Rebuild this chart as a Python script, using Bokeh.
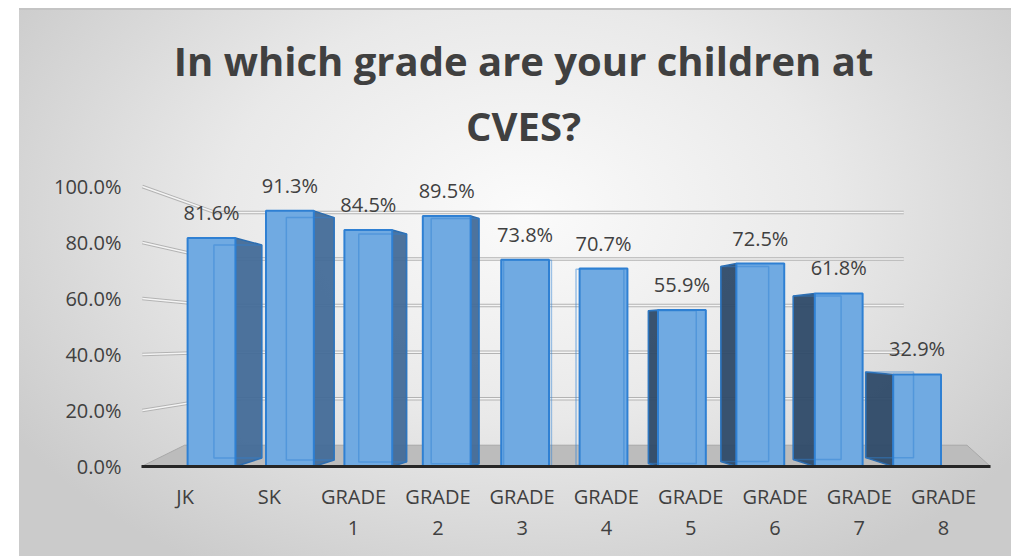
from bokeh.plotting import figure
from bokeh.models import ColumnDataSource, FixedTicker, Range1d, LabelSet, Label
from bokeh.embed import file_html
from bokeh.resources import INLINE
from bokeh.core.properties import value

# ---- data ----
title_lines = ["In which grade are your children at", "CVES?"]
categories = ["JK", "SK", "GRADE 1", "GRADE 2", "GRADE 3", "GRADE 4",
              "GRADE 5", "GRADE 6", "GRADE 7", "GRADE 8"]
tick_labels = ["JK", "SK", "GRADE\n1", "GRADE\n2", "GRADE\n3", "GRADE\n4",
               "GRADE\n5", "GRADE\n6", "GRADE\n7", "GRADE\n8"]
shares = [0.816, 0.913, 0.845, 0.895, 0.738, 0.707, 0.559, 0.725, 0.618, 0.329]
share_labels = ["81.6%", "91.3%", "84.5%", "89.5%", "73.8%", "70.7%",
                "55.9%", "72.5%", "61.8%", "32.9%"]
y_ticks = [0.0, 0.2, 0.4, 0.6, 0.8, 1.0]
y_tick_labels = ["0.0%", "20.0%", "40.0%", "60.0%", "80.0%", "100.0%"]

# ---- perspective styling (pseudo 3D) ----
FONT = "Open Sans"
TXT = "#404040"
W = 0.61          # front face width
VC = 4.4          # vanishing column
DEPTH = 0.0763    # side depth per column away from vanishing column
HOR = 0.45        # horizon level
SHRINK = 0.2
WALL = 0.169      # back wall shrink toward horizon
FRONT_SPREAD = 1.075

n = len(categories)
idx = list(range(n))
dxs = [DEPTH * (VC - i) for i in idx]

side_xs, side_ys, side_col = [], [], []
back_xs, back_ys = [], []
for i, v, dx in zip(idx, shares, dxs):
    a = SHRINK * abs(dx)
    top_b = v + a * (HOR - v)
    bot_b = a * HOR
    xl, xr = i - W / 2, i + W / 2
    back_xs.append([xl + dx, xl + dx, xr + dx, xr + dx])
    back_ys.append([bot_b, top_b, top_b, bot_b])
    if abs(dx) < 0.06:
        continue
    edge = xr if dx > 0 else xl
    side_xs.append([edge, edge, edge + dx, edge + dx])
    side_ys.append([0, v, top_b, bot_b])
    side_col.append("#436c98" if dx > 0 else "#2e4a68")

front_ticks = [round(4.5 + (i - 4.5) * FRONT_SPREAD, 3) for i in idx]

x0, x1 = -0.893, 9.936
wall_l, wall_r = 0.05, 8.83
grid_xs = [[x0 + 0.01, wall_l, wall_r] for t in y_ticks[1:]]
grid_ys = [[t, t + WALL * (HOR - t), t + WALL * (HOR - t)] for t in y_ticks[1:]]
floor_back = WALL * HOR
y_top = 1.6286   # frame reaches up into the title area

p = figure(width=1011, height=556, x_range=Range1d(x0, x1), y_range=Range1d(0, y_top),
           output_backend="svg", toolbar_location=None, title=None,
           min_border_left=141, min_border_right=21, min_border_top=10,
           min_border_bottom=90)
p.styles = {"background": (
    "linear-gradient(#ffffff,#ffffff) 0 0 / 100% 8px no-repeat, "
    "linear-gradient(#ffffff,#ffffff) 0 0 / 19px 100% no-repeat, "
    "linear-gradient(#c4c4c4,#c4c4c4) 0 8px / 100% 2px no-repeat, "
    "radial-gradient(ellipse 60% 75% at 52% 38%, #fbfbfb 0%, #e9e9e9 50%, #cbcbcb 100%)")}
p.border_fill_color = None
p.background_fill_color = None
p.outline_line_color = None

# title, two lines
for txt, ty in zip(title_lines, [1.45, 1.218]):
    p.add_layout(Label(x=3.98, y=ty, text=txt, text_align="center", text_baseline="middle",
                       text_font=FONT, text_font_size="40px", text_font_style="bold",
                       text_color=TXT))

# back-wall gridlines
p.multi_line(grid_xs, grid_ys, line_color="#b3b3b3", line_width=3.5)
p.multi_line(grid_xs, grid_ys, line_color="#f4f4f4", line_width=1.5)

# floor
p.patch([x0, x0 + 0.55, x1 - 0.3, x1], [0, floor_back, floor_back, 0],
        fill_color="#bcbcbc", line_color="#a8a8a8", line_width=1)

# bars
src = ColumnDataSource(dict(x=idx, top=shares, lab=share_labels))
p.patches(side_xs, side_ys, fill_color=side_col, line_color="#2c6db0", line_width=1.5,
          fill_alpha=0.95)
p.vbar(x="x", top="top", bottom=0, width=W, source=src, fill_color="#70aae2",
       line_color="#2f80d3", line_width=2)
p.patches(back_xs, back_ys, fill_color=None, line_color="#2f80d3", line_alpha=0.45,
          line_width=1.5)

labels = LabelSet(x="x", y="top", text="lab", source=src, text_align="center",
                  text_baseline="bottom", y_offset=12, text_font=value(FONT),
                  text_font_size="20px", text_color=TXT)
p.add_layout(labels)

# axes
p.yaxis.ticker = FixedTicker(ticks=y_ticks)
p.yaxis.major_label_overrides = {t: l for t, l in zip(y_ticks, y_tick_labels)}
p.yaxis.axis_line_color = None
p.yaxis.major_tick_line_color = None
p.yaxis.minor_tick_line_color = None
p.yaxis.major_label_standoff = 14
p.yaxis.major_label_text_font = FONT
p.yaxis.major_label_text_font_size = "20px"
p.yaxis.major_label_text_color = TXT

p.xaxis.ticker = FixedTicker(ticks=front_ticks)
p.xaxis.major_label_overrides = {t: l for t, l in zip(front_ticks, tick_labels)}
p.xaxis.axis_line_color = "#262626"
p.xaxis.axis_line_width = 3
p.xaxis.major_tick_line_color = None
p.xaxis.minor_tick_line_color = None
p.xaxis.major_label_standoff = 10
p.xaxis.major_label_text_font = FONT
p.xaxis.major_label_text_font_size = "20px"
p.xaxis.major_label_text_color = TXT
p.xaxis.major_label_text_line_height = 1.15

p.xgrid.grid_line_color = None
p.ygrid.grid_line_color = None

open("out.html", "w").write(file_html(p, INLINE))
